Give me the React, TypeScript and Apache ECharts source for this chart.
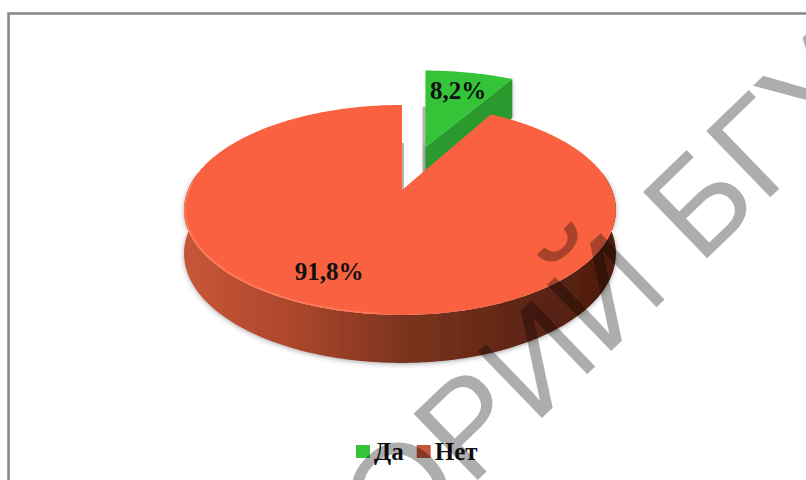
import React, { useEffect, useRef } from "react";
import * as echarts from "echarts";

const categories = ["Да", "Нет"];
const shareValues = [8.2, 91.8];
const valueLabels = ["8,2%", "91,8%"];
const watermarkText = "ОРИЙ БГУ";

const SERIF = "'Liberation Serif', serif";
const centerX = 402;
const centerY = 190;
const persp = 0.19;
const scaleY = 101.2;
const scaleLeft = 214;
const scaleRight = 210;
const explode = 0.477;
const wedgeRadius = 1.06;

// Perspective view of a point on the unit disc; 0° is the far side, angles run clockwise.
function project(u: number, v: number, eu = 0, ev = 0): number[] {
  const w0 = 1 + persp * ev;
  const w = 1 + persp * (v + ev);
  const k = u + eu < 0 ? scaleLeft : scaleRight;
  return [centerX + (k * eu) / w0 + (k * u) / w, centerY - (scaleY * (v + ev)) / w];
}

function arcPoints(from: number, to: number, r: number, eu: number, ev: number): number[][] {
  const out: number[][] = [];
  const steps = Math.max(2, Math.ceil(Math.abs(to - from)));
  for (let i = 0; i <= steps; i++) {
    const t = ((from + ((to - from) * i) / steps) * Math.PI) / 180;
    out.push(project(r * Math.sin(t), r * Math.cos(t), eu, ev));
  }
  return out;
}

// Rim height shrinks slightly towards the far side of the disc.
function dropPoint(p: number[]): number[] {
  const near = (p[1] - 105) / 210;
  return [p[0], p[1] + 39 + 9 * Math.min(1, Math.max(0, near))];
}

function sliceAngles(index: number): number[] {
  const total = shareValues.reduce((a, b) => a + b, 0);
  const before = shareValues.slice(0, index).reduce((a, b) => a + b, 0);
  return [(before / total) * 360, ((before + shareValues[index]) / total) * 360];
}

function renderGreen(_: unknown, api: any) {
  const [a0, a1] = sliceAngles(0);
  const mid = (((a0 + a1) / 2) * Math.PI) / 180;
  const eu = explode * Math.sin(mid);
  const ev = explode * Math.cos(mid);
  const apex = project(0, 0, eu, ev);
  const rim = arcPoints(a0, a1, wedgeRadius, eu, ev);
  const corner = rim[rim.length - 1];
  return {
    type: "group",
    children: [
      {
        type: "polygon",
        shape: {
          points: [
            [apex[0] - 3, rim[0][1] + 36],
            [apex[0] + 1, rim[0][1] + 36],
            [apex[0] + 1, apex[1] + 30],
            [apex[0] - 3, apex[1] + 30],
          ],
        },
        style: { fill: "#b4b4b4" },
      },
      {
        type: "polygon",
        shape: { points: [apex, corner, dropPoint(corner), dropPoint(apex)] },
        style: { fill: "#2b9a2e", shadowBlur: 4, shadowColor: "rgba(0,0,0,0.3)" },
      },
      {
        type: "polygon",
        shape: { points: [apex, ...rim] },
        style: { fill: "#35c437" },
      },
      {
        type: "text",
        x: 458,
        y: 90,
        style: {
          text: valueLabels[0],
          font: `bold 25px ${SERIF}`,
          fill: "#111111",
          align: "center",
          verticalAlign: "middle",
        },
      },
    ],
  };
}

function renderRed(_: unknown, api: any) {
  const [a0, a1] = sliceAngles(1);
  const rim = arcPoints(a0, a1, 1, 0, 0);
  const apex = project(0, 0);
  const front = arcPoints(80, 280, 1, 0, 0);
  const sideGradient = new echarts.graphic.LinearGradient(0, 0, 1, 0, [
    { offset: 0, color: "#c75638" },
    { offset: 0.25, color: "#ad472b" },
    { offset: 0.5, color: "#7d3420" },
    { offset: 0.75, color: "#622716" },
    { offset: 1, color: "#4c1c0e" },
  ]);
  return {
    type: "group",
    children: [
      {
        type: "polygon",
        shape: {
          points: [
            [apex[0], apex[1] - 47],
            [apex[0] + 2, apex[1] - 47],
            [apex[0] + 2, apex[1]],
            [apex[0], apex[1]],
          ],
        },
        style: { fill: "#b4b4b4" },
      },
      {
        type: "polygon",
        shape: { points: [...front, ...front.map(dropPoint).reverse()] },
        style: {
          fill: sideGradient,
          shadowBlur: 5,
          shadowColor: "rgba(60,60,60,0.45)",
          shadowOffsetY: 1,
        },
      },
      {
        type: "polygon",
        shape: { points: [apex, ...rim] },
        style: { fill: "#f96140" },
      },
      {
        // lighter bevel along the near-left edge of the top face
        type: "polyline",
        shape: { points: arcPoints(185, 275, 0.995, 0, 0) },
        style: { fill: "none", stroke: "#ff7d5e", lineWidth: 1.5 },
      },
      {
        type: "text",
        x: 329,
        y: 271,
        style: {
          text: valueLabels[1],
          font: `bold 25px ${SERIF}`,
          fill: "#111111",
          align: "center",
          verticalAlign: "middle",
        },
      },
    ],
  };
}

export default function App() {
  const ref = useRef<HTMLDivElement>(null);
  useEffect(() => {
    const chart = echarts.init(ref.current, undefined, { renderer: "svg" });
    chart.setOption({
      animation: false,
      backgroundColor: "#ffffff",
      legend: {
        data: categories,
        left: 356,
        top: 439,
        itemWidth: 14,
        itemHeight: 13,
        itemGap: 13,
        icon: "rect",
        padding: 0,
        textStyle: {
          fontFamily: SERIF,
          fontWeight: "bold",
          fontSize: 25,
          color: "#111111",
          padding: [0, 0, 0, -1],
        },
      },
      graphic: [
        {
          type: "rect",
          z: -1,
          shape: { x: 8.5, y: 13.5, width: 900, height: 600 },
          style: { fill: "none", stroke: "#868686", lineWidth: 2.5 },
        },
        {
          type: "text",
          z: 100,
          x: 409,
          y: 575,
          rotation: (44 * Math.PI) / 180,
          style: {
            text: watermarkText,
            font: "134px 'Liberation Sans', sans-serif",
            fill: "rgba(0,0,0,0.32)",
            align: "left",
            verticalAlign: "bottom",
          },
        },
      ],
      series: [
        {
          type: "custom",
          name: categories[0],
          coordinateSystem: "none",
          data: [[shareValues[0]]],
          itemStyle: { color: "#35c437" },
          renderItem: renderGreen,
        },
        {
          type: "custom",
          name: categories[1],
          coordinateSystem: "none",
          data: [[shareValues[1]]],
          itemStyle: { color: "#c4553a" },
          renderItem: renderRed,
        },
      ],
    });
    return () => chart.dispose();
  }, []);
  return (
    <div
      ref={ref}
      style={{ position: "absolute", left: 0, top: 0, width: 806, height: 480 }}
    />
  );
}
